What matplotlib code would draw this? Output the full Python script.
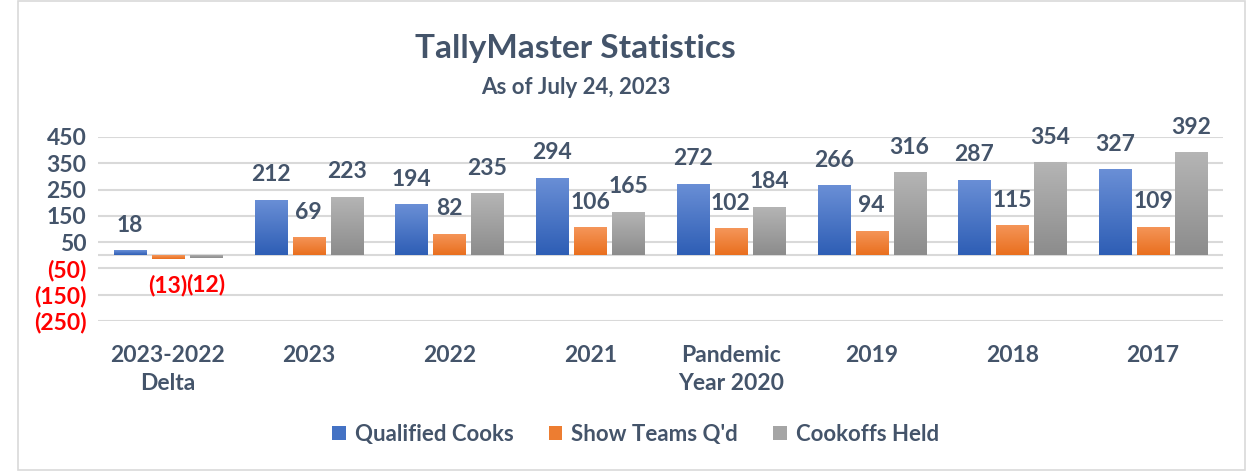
import numpy as np
import matplotlib
matplotlib.use('Agg')
import matplotlib.pyplot as plt
from matplotlib.patches import Rectangle
from matplotlib.ticker import FuncFormatter

plt.rcParams['font.family'] = ['Lato', 'DejaVu Sans']
plt.rcParams['font.weight'] = 'bold'

# data
categories = ['2023-2022\nDelta', '2023', '2022', '2021', 'Pandemic\nYear 2020', '2019', '2018', '2017']
qualified_cooks = [18, 212, 194, 294, 272, 266, 287, 327]
show_teams = [-13, 69, 82, 106, 102, 94, 115, 109]
cookoffs_held = [-12, 223, 235, 165, 184, 316, 354, 392]
series_names = ['Qualified Cooks', "Show Teams Q'd", 'Cookoffs Held']
y_ticks = [450, 350, 250, 150, 50, -50, -150, -250]

txt = '#44546A'
colors = ['#4472C4', '#ED7D31', '#A5A5A5']
grad = [('#6A8FD6', '#2E5EB5'), ('#F5965A', '#E96F1E'), ('#B5B5B5', '#8C8C8C')]

fig = plt.figure(figsize=(12.51, 4.74), dpi=100)
fig.patches.append(Rectangle((0.014, 0.008), 0.981, 0.99, transform=fig.transFigure,
                             fill=False, edgecolor='#D9D9D9', linewidth=1.2))
ax = fig.add_axes([0.078, 0.323, 0.900, 0.388])

x = np.arange(len(categories))
w = 0.228
step = 0.27
for i, (vals, c) in enumerate(zip([qualified_cooks, show_teams, cookoffs_held], colors)):
    bars = ax.bar(x + (i - 1) * step, vals, w, color=c, label=series_names[i], zorder=3)
    top_c = np.array(matplotlib.colors.to_rgb(grad[i][0]))
    bot_c = np.array(matplotlib.colors.to_rgb(grad[i][1]))
    g = np.linspace(0, 1, 100)[:, None]
    img = (top_c * (1 - g) + bot_c * g)[:, None, :]
    for b, v in zip(bars, vals):
        x0, y0 = b.get_x(), b.get_y()
        bw, bh = b.get_width(), b.get_height()
        lo, hi = min(y0, y0 + bh), max(y0, y0 + bh)
        im = ax.imshow(img, extent=[x0, x0 + bw, lo, hi], aspect='auto', zorder=3.5,
                       interpolation='bilinear')
        im.set_clip_path(b)
        if v >= 0:
            ax.annotate(str(v), (x0 + bw / 2, v), xytext=(0, 18), textcoords='offset points',
                        ha='center', va='center', fontsize=16.5, color=txt, fontweight='bold')
        else:
            ax.annotate('(%d)' % abs(v), (x0 + bw / 2, v), xytext=(0, -19), textcoords='offset points',
                        ha='center', va='center', fontsize=16.5, color='red', fontweight='bold')

ax.set_xlim(-0.5, len(categories) - 0.5)
ax.set_ylim(-250, 450)
ax.set_yticks(y_ticks)
ax.yaxis.set_major_formatter(FuncFormatter(lambda v, p: '%d' % v if v >= 0 else '(%d)' % abs(v)))
ax.grid(axis='y', color='#D9D9D9', linewidth=1.5, zorder=0)
ax.axhline(0, color='#D9D9D9', linewidth=1.5, zorder=1)
for s in ax.spines.values():
    s.set_visible(False)
ax.tick_params(axis='both', length=0, labelsize=16.5, labelcolor=txt, pad=8)
ax.set_xticks(x)
ax.set_xticklabels(categories, fontweight='bold', linespacing=1.45)
ax.tick_params(axis='x', pad=17)
fig.canvas.draw()
for lab in ax.get_yticklabels():
    lab.set_fontweight('bold')
    if lab.get_text().startswith('('):
        lab.set_color('red')

fig.text(0.46, 0.897, 'TallyMaster Statistics', ha='center', va='center', fontsize=24,
         color=txt, fontweight='bold')
fig.text(0.46, 0.815, 'As of July 24, 2023', ha='center', va='center', fontsize=16,
         color=txt, fontweight='bold')

leg = fig.legend(loc='center', bbox_to_anchor=(0.508, 0.083), ncol=3, frameon=False,
                 fontsize=16, handlelength=0.6, handleheight=0.6, handletextpad=0.4,
                 columnspacing=1.6)
for t in leg.get_texts():
    t.set_color(txt)
    t.set_fontweight('bold')

fig.savefig('out.png', dpi=100)
